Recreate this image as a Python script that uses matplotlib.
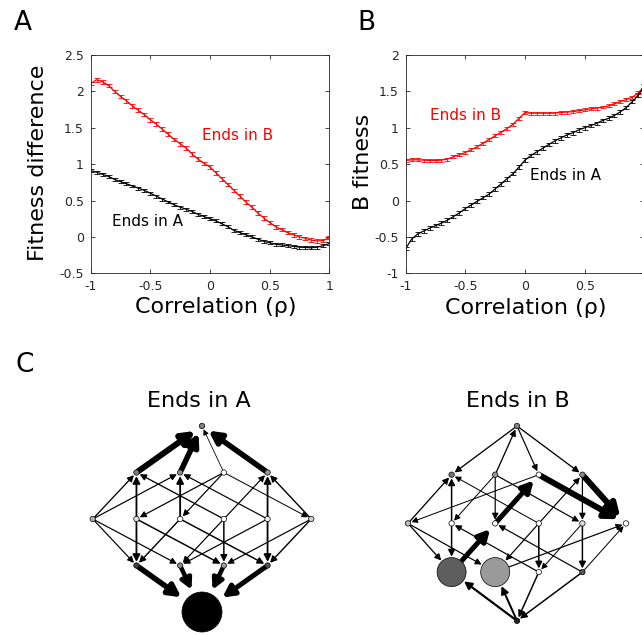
import numpy as np
import matplotlib
matplotlib.use("Agg")
import matplotlib.pyplot as plt
from matplotlib.patches import FancyArrowPatch, Circle, ArrowStyle

plt.rcParams['font.family'] = ['DejaVu Sans']
plt.rcParams['axes.unicode_minus'] = False

# ---------------- data: panels A and B ----------------
rho = np.linspace(-1, 1, 41)

A_ends_in_B = [2.11, 2.16, 2.13, 2.08, 2.00, 1.93, 1.87, 1.80, 1.74, 1.68,
               1.61, 1.55, 1.48, 1.41, 1.34, 1.28, 1.22, 1.14, 1.07, 1.01,
               0.96, 0.88, 0.80, 0.72, 0.64, 0.56, 0.48, 0.41, 0.33, 0.26,
               0.20, 0.14, 0.10, 0.06, 0.03, 0.00, -0.02, -0.045, -0.055, -0.05,
               -0.01]
A_ends_in_A = [0.91, 0.89, 0.86, 0.83, 0.79, 0.76, 0.73, 0.70, 0.67, 0.64,
               0.60, 0.56, 0.52, 0.48, 0.44, 0.41, 0.38, 0.35, 0.31, 0.28,
               0.25, 0.22, 0.18, 0.14, 0.09, 0.06, 0.03, 0.00, -0.03, -0.06,
               -0.08, -0.10, -0.11, -0.12, -0.13, -0.14, -0.145, -0.15, -0.14, -0.12,
               -0.09]
B_ends_in_B = [0.55, 0.56, 0.56, 0.555, 0.55, 0.55, 0.555, 0.57, 0.60, 0.63,
               0.66, 0.70, 0.74, 0.79, 0.84, 0.89, 0.94, 0.99, 1.05, 1.13,
               1.21, 1.20, 1.20, 1.20, 1.20, 1.20, 1.21, 1.215, 1.22, 1.235,
               1.245, 1.26, 1.27, 1.285, 1.30, 1.33, 1.36, 1.39, 1.42, 1.48,
               1.57]
B_ends_in_A = [-0.66, -0.53, -0.46, -0.42, -0.38, -0.345, -0.31, -0.27, -0.22, -0.17,
               -0.11, -0.06, -0.01, 0.04, 0.09, 0.16, 0.23, 0.30, 0.37, 0.46,
               0.555, 0.62, 0.67, 0.72, 0.77, 0.82, 0.86, 0.90, 0.93, 0.97,
               1.00, 1.03, 1.06, 1.10, 1.13, 1.17, 1.22, 1.28, 1.36, 1.45,
               1.57]
err_A_B = 0.025
err_A_A = 0.02
err_B_B = 0.02
err_B_A = 0.025

x_ticks = [-1, -0.5, 0, 0.5, 1]
x_ticklabels = ['-1', '-0.5', '0', '0.5', '1']
yA_ticks = [-0.5, 0, 0.5, 1, 1.5, 2, 2.5]
yA_ticklabels = ['-0.5', '0', '0.5', '1', '1.5', '2', '2.5']
yB_ticks = [-1, -0.5, 0, 0.5, 1, 1.5, 2]
yB_ticklabels = ['-1', '-0.5', '0', '0.5', '1', '1.5', '2']

# ---------------- data: panel C graphs ----------------
layers = [['T'], ['a1', 'a2', 'a3', 'a4'], ['b1', 'b2', 'b3', 'b4', 'b5', 'b6'],
          ['c1', 'c2', 'c3', 'c4'], ['Bot']]

edges_A = [('a1', 'T', 6.0), ('a2', 'T', 5.5), ('a3', 'T', 0.8), ('a4', 'T', 5.5),
           ('b1', 'a1', 1.3), ('b1', 'a2', 1.2), ('b2', 'a1', 1.8), ('a3', 'b2', 1.2),
           ('b3', 'a2', 1.8), ('a3', 'b3', 1.2), ('b4', 'a1', 1.3), ('b4', 'a4', 1.2),
           ('b5', 'a2', 1.2), ('b5', 'a4', 1.8), ('a3', 'b6', 1.0), ('b6', 'a4', 1.4),
           ('b1', 'c1', 1.2), ('b1', 'c2', 1.2), ('b2', 'c1', 1.8), ('b3', 'c1', 1.4),
           ('b4', 'c2', 1.2), ('b5', 'c2', 1.2), ('b2', 'c3', 1.5), ('b4', 'c3', 1.5),
           ('b6', 'c3', 1.2), ('b3', 'c4', 1.5), ('b5', 'c4', 1.8), ('b6', 'c4', 1.4),
           ('c1', 'Bot', 5.5), ('c2', 'Bot', 4.5), ('c3', 'Bot', 4.5), ('c4', 'Bot', 5.0)]
fill_A = {'T': '#7f7f7f', 'a1': '#7f7f7f', 'a2': '#8c8c8c', 'a3': 'white', 'a4': '#999999',
          'b1': '#b0b0b0', 'b2': '#e0e0e0', 'b3': 'white', 'b4': 'white', 'b5': '#eeeeee',
          'b6': '#d0d0d0', 'c1': '#404040', 'c2': '#8c8c8c', 'c3': '#999999', 'c4': '#555555',
          'Bot': 'black'}
radius_A = {'Bot': 20.0}

edges_B = [('T', 'a1', 1.3), ('a2', 'T', 1.3), ('T', 'a3', 1.2), ('T', 'a4', 1.3),
           ('b1', 'a1', 1.3), ('a3', 'b1', 1.0), ('b2', 'a1', 1.5), ('a2', 'b2', 1.0),
           ('a2', 'b3', 1.2), ('b3', 'a3', 5.0), ('b4', 'a1', 1.0), ('a2', 'b5', 1.2),
           ('a3', 'b6', 6.0), ('a4', 'b6', 6.0), ('b4', 'a4', 1.2), ('a4', 'b5', 1.2),
           ('b1', 'c1', 1.3), ('b1', 'c2', 1.2), ('b2', 'c1', 1.5), ('c1', 'b3', 5.0),
           ('c3', 'b2', 1.2), ('c4', 'b3', 1.2), ('b4', 'c2', 1.2), ('b4', 'c3', 1.5),
           ('b5', 'c3', 1.0), ('b5', 'c4', 1.5), ('c2', 'b6', 1.2), ('c4', 'b6', 1.0),
           ('Bot', 'c1', 2.2), ('Bot', 'c2', 2.0), ('c3', 'Bot', 1.5), ('c4', 'Bot', 1.5)]
fill_B = {'T': '#808080', 'a1': '#777777', 'a2': '#999999', 'a3': 'white', 'a4': '#8a8a8a',
          'b1': '#bbbbbb', 'b2': 'white', 'b3': 'white', 'b4': 'white', 'b5': '#dddddd',
          'b6': 'white', 'c1': '#5e5e5e', 'c2': '#9a9a9a', 'c3': 'white', 'c4': '#555555',
          'Bot': '#222222'}
radius_B = {'c1': 14.5, 'c2': 14.5}

# ---------------- figure ----------------
W, H = 642, 635
fig = plt.figure(figsize=(W / 100, H / 100), dpi=100)
TXT = '#262626'


def px_axes(left, top, right, bottom):
    return fig.add_axes([left / W, 1 - bottom / H, (right - left) / W, (bottom - top) / H])


def style(ax, yt, ytl, ylim):
    ax.set_xlim(-1, 1)
    ax.set_ylim(*ylim)
    ax.set_xticks(x_ticks)
    ax.set_xticklabels(x_ticklabels)
    ax.set_yticks(yt)
    ax.set_yticklabels(ytl)
    ax.tick_params(direction='in', top=True, right=True, length=3, width=0.6,
                   labelsize=9, colors=TXT, pad=5)
    for s in ax.spines.values():
        s.set_linewidth(0.6)
        s.set_color(TXT)


axA = px_axes(90.7, 55, 329.3, 273.3)
axA.errorbar(rho, A_ends_in_B, yerr=err_A_B, color='red', lw=0.9, elinewidth=0.6,
             capsize=2.2, capthick=0.6)
axA.errorbar(rho, A_ends_in_A, yerr=err_A_A, color='black', lw=0.9, elinewidth=0.6,
             capsize=2.2, capthick=0.6)
style(axA, yA_ticks, yA_ticklabels, (-0.5, 2.5))

axB = px_axes(405.7, 55, 644.3, 273.3)
axB.errorbar(rho, B_ends_in_B, yerr=err_B_B, color='red', lw=0.9, elinewidth=0.6,
             capsize=2.2, capthick=0.6)
axB.errorbar(rho, B_ends_in_A, yerr=err_B_A, color='black', lw=0.9, elinewidth=0.6,
             capsize=2.2, capthick=0.6)
style(axB, yB_ticks, yB_ticklabels, (-1, 2))


def ftext(x, y, s, **kw):
    fig.text(x / W, 1 - y / H, s, ha='center', va='center', **kw)


ftext(38, 163, 'Fitness difference', rotation=90, fontsize=16, color='black')
ftext(216, 307, 'Correlation (\u03c1)', fontsize=16, color='black')
ftext(363, 162, 'B fitness', rotation=90, fontsize=16, color='black')
ftext(526, 308, 'Correlation (\u03c1)', fontsize=16, color='black')
ftext(238, 136, 'Ends in B', fontsize=11, color='red')
ftext(148, 222, 'Ends in A', fontsize=11, color='black')
ftext(466, 115, 'Ends in B', fontsize=11, color='red')
ftext(565, 176, 'Ends in A', fontsize=11, color='black')
ftext(23, 23, 'A', fontsize=19)
ftext(366, 23, 'B', fontsize=19)
ftext(25, 365, 'C', fontsize=19)
ftext(199, 401, 'Ends in A', fontsize=16)
ftext(518, 401, 'Ends in B', fontsize=16)

# ---------------- panel C ----------------
axC = fig.add_axes([0, 0, 1, 0.5])
axC.set_xlim(0, W)
axC.set_ylim(H, H / 2)
axC.axis('off')

R_SMALL = 2.7
PX2PT = 0.72


def draw_graph(ax, cx, top, dx, dy, edges, fills, radii):
    pos = {}
    for k, layer in enumerate(layers):
        n = len(layer)
        for i, name in enumerate(layer):
            pos[name] = (cx + (i - (n - 1) / 2) * dx, top + k * dy)
    for s, t, w in edges:
        x0, y0 = pos[s]
        x1, y1 = pos[t]
        d = np.hypot(x1 - x0, y1 - y0)
        ux, uy = (x1 - x0) / d, (y1 - y0) / d
        rs = radii.get(s, R_SMALL)
        rt = radii.get(t, R_SMALL)
        gap = 1.0 + (0.8 * w if w > 3 else 0)
        p0 = (x0 + ux * rs, y0 + uy * rs)
        p1 = (x1 - ux * (rt + gap), y1 - uy * (rt + gap))
        hl = (3.8 + 1.1 * w) * PX2PT
        hw = (1.9 + 0.6 * w) * PX2PT
        arr = FancyArrowPatch(p0, p1, arrowstyle=ArrowStyle('-|>', head_length=hl, head_width=hw),
                              mutation_scale=1, lw=w * PX2PT, color='black',
                              shrinkA=0, shrinkB=0, zorder=2)
        ax.add_patch(arr)
    for name, (x, y) in pos.items():
        r = radii.get(name, R_SMALL)
        ax.add_patch(Circle((x, y), r, facecolor=fills[name], edgecolor='black',
                            lw=0.5, zorder=3))


draw_graph(axC, 202, 426, 43.7, 46.5, edges_A, fill_A, radius_A)
draw_graph(axC, 517, 426, 43.6, 48.7, edges_B, fill_B, radius_B)

fig.savefig('out.png', dpi=100)
